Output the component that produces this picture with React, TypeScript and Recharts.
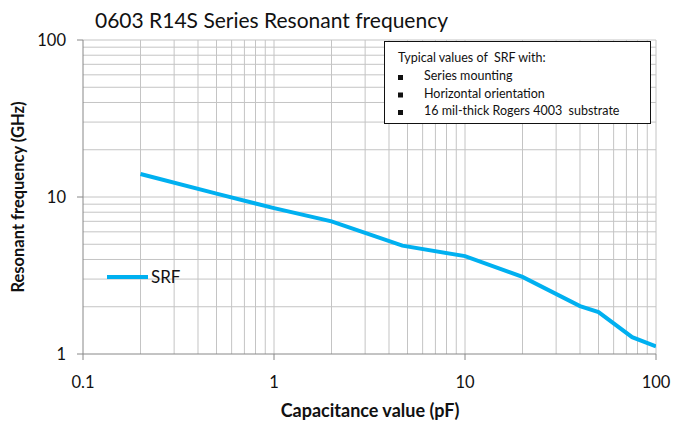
import { LineChart, Line, XAxis, YAxis, ReferenceLine } from 'recharts';

const capacitance = [0.2, 0.5, 1, 2, 3, 4.7, 10, 20, 40, 50, 75, 100];
const srf = [14, 10.5, 8.5, 7.0, 5.9, 4.9, 4.2, 3.1, 2.02, 1.85, 1.28, 1.12];

const xTicks = [0.1, 1, 10, 100];
const yTicks = [1, 10, 100];
const xGrid = [0.2, 0.3, 0.4, 0.5, 0.6, 0.7, 0.8, 0.9, 1, 2, 3, 4, 5, 6, 7, 8, 9, 10, 20, 30, 40, 50, 60, 70, 80, 90, 100];
const yGrid = [2, 3, 4, 5, 6, 7, 8, 9, 10, 20, 30, 40, 50, 60, 70, 80, 90, 100];
const noteTitle = 'Typical values of\u00a0 SRF with:';
const noteLines = ['Series mounting', 'Horizontal orientation', '16 mil-thick Rogers 4003\u00a0 substrate'];

const data = capacitance.map((c, i) => ({ c, srf: srf[i] }));

const FONT = 'Lato, "Liberation Sans", sans-serif';
const GRID = '#c4c4c4';
const BLUE = '#00B0F0';

const App = () => {
  return (
    <div style={{ position: 'absolute', left: 0, top: 0, width: 673, height: 424, background: '#fff' }}>
      <LineChart width={673} height={424} data={data} margin={{ top: 40, right: 17, left: 0, bottom: 40 }}>
        {xGrid.map((v) => (
          <ReferenceLine key={'x' + v} x={v} stroke={GRID} strokeWidth={1} />
        ))}
        {yGrid.map((v) => (
          <ReferenceLine key={'y' + v} y={v} stroke={GRID} strokeWidth={1} />
        ))}
        <XAxis
          dataKey="c"
          type="number"
          scale="log"
          domain={[0.1, 100]}
          ticks={xTicks}
          allowDataOverflow
          height={30}
          stroke="#888"
          tickSize={6}
          tickMargin={16}
          tick={{ fill: '#111', fontSize: 16.5, fontFamily: FONT }}
        />
        <YAxis
          type="number"
          scale="log"
          domain={[1, 100]}
          ticks={yTicks}
          allowDataOverflow
          width={83}
          stroke="#888"
          tickSize={6}
          tickMargin={11}
          tick={{ fill: '#111', fontSize: 16.5, fontFamily: FONT }}
        />
        <Line
          dataKey="srf"
          name="SRF"
          stroke={BLUE}
          strokeWidth={4}
          dot={false}
          isAnimationActive={false}
        />
      </LineChart>

      {/* titles, legend and note box drawn on top */}
      <svg width={673} height={424} style={{ position: 'absolute', left: 0, top: 0, pointerEvents: 'none' }} fontFamily={FONT}>
        <text x={95} y={28} fontSize={21} fill="#111">0603 R14S Series Resonant frequency</text>
        <text x={370} y={417} fontSize={18} fontWeight="bold" fill="#111" textAnchor="middle">
          Capacitance value (pF)
        </text>
        <text
          x={0}
          y={0}
          fontSize={16.5}
          fontWeight="bold"
          fill="#111"
          textAnchor="middle"
          transform="translate(24,197) rotate(-90)"
        >
          Resonant frequency (GHz)
        </text>

        <line x1={107} x2={148} y1={277} y2={277} stroke={BLUE} strokeWidth={4} />
        <text x={151} y={283} fontSize={17} fill="#111">SRF</text>

        <rect x={384.5} y={41.5} width={266} height={82} fill="#fff" stroke="#111" strokeWidth={1} />
        <text x={398} y={62} fontSize={12.5} fill="#111">{noteTitle}</text>
        {noteLines.map((t, i) => (
          <g key={t}>
            <rect x={398} y={75 + i * 17.5} width={5} height={5} fill="#111" />
            <text x={424} y={80 + i * 17.5} fontSize={12.5} fill="#111">{t}</text>
          </g>
        ))}
      </svg>
    </div>
  );
};

export default App;
